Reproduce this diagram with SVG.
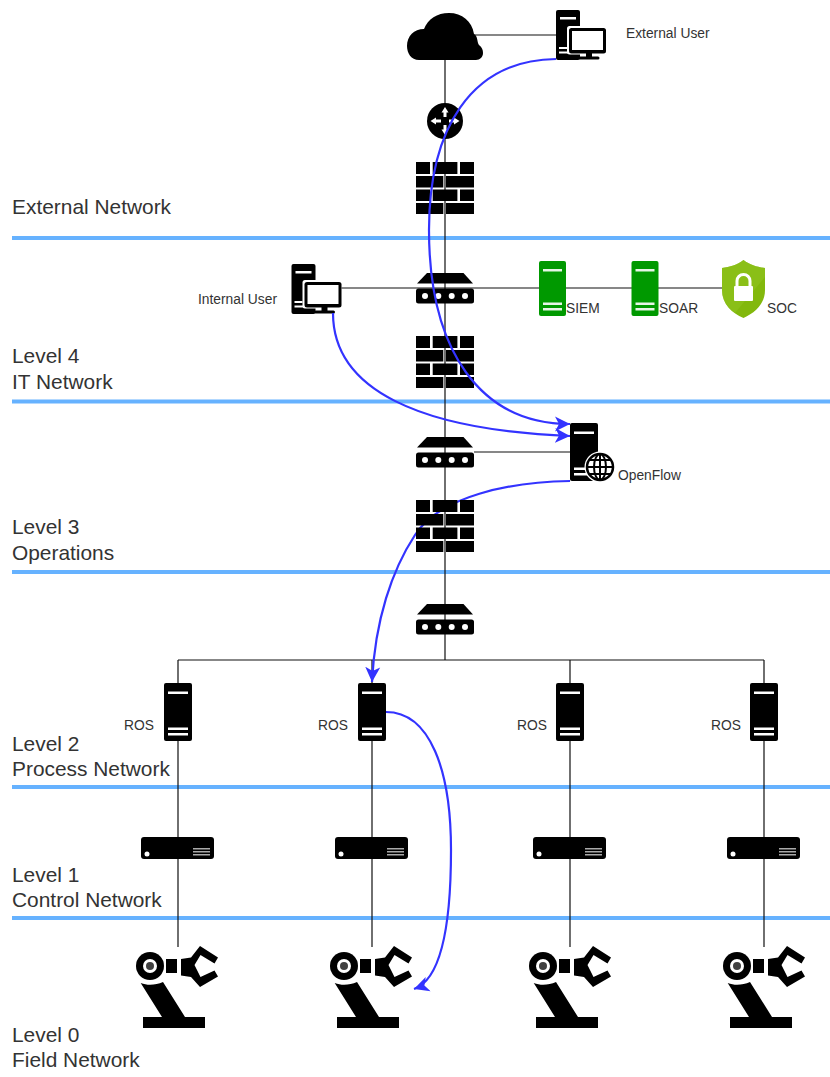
<svg xmlns="http://www.w3.org/2000/svg" xmlns:xlink="http://www.w3.org/1999/xlink" width="830" height="1077" viewBox="0 0 830 1077">
<style>
.band{stroke:#66b2ff;stroke-width:4;fill:none}
.wire{stroke:#111;stroke-width:1.200;fill:none}
.flow{stroke:#3333ff;stroke-width:2.200;fill:none}
text{font-family:"Liberation Sans",Arial,sans-serif;fill:#333}
.lv{font-size:20.900px}
.sm{font-size:13.800px}
</style>
<defs>
<marker id="arr" markerUnits="userSpaceOnUse" markerWidth="18" markerHeight="16" refX="15" refY="8" orient="auto">
<path d="M0 0.500L15 8L0 15.500L4 8Z" fill="#3333ff"/>
</marker>
<symbol id="firewall" overflow="visible">
<path d="M0 0h14v12H0zM16.700 0h24.700v12H16.700zM44 0h14v12H44zM0 14h27.300v11.500H0zM30 14h28v11.500H30zM0 27.500h14v11.500H0zM16.700 27.500h24.700v11.500H16.700zM44 27.500h14v11.500H44zM0 41h27.300v11H0zM30 41h28v11H30z" fill="#000"/>
</symbol>
<symbol id="switch" overflow="visible">
<path d="M11 0H47.500L57 10.500H1Z" fill="#000"/>
<rect x="0" y="15.500" width="58" height="15" rx="2.500" fill="#000"/>
<g fill="#fff"><circle cx="9" cy="23" r="3"/><circle cx="22.300" cy="23" r="3"/><circle cx="35.700" cy="23" r="3"/><circle cx="49" cy="23" r="3"/></g>
</symbol>
<symbol id="server" overflow="visible">
<rect width="28" height="58" rx="2" fill="#000"/>
<g fill="#fff"><rect x="4" y="8.500" width="20" height="2.500"/><rect x="4" y="44.500" width="20" height="2.500"/><rect x="4" y="50" width="20" height="2.500"/></g>
</symbol>
<symbol id="gserver" overflow="visible">
<rect width="27" height="55" rx="2" fill="#009900"/>
<g fill="#e6f5e6"><rect x="4" y="8" width="19" height="2.500"/><rect x="4" y="41.500" width="19" height="2.500"/><rect x="4" y="47" width="19" height="2.500"/></g>
</symbol>
<symbol id="pc" overflow="visible">
<rect width="24" height="50" rx="2" fill="#000"/>
<rect x="4" y="7" width="16" height="2.500" fill="#fff"/>
<rect x="3" y="37" width="8" height="2" fill="#fff"/>
<rect x="3" y="41.500" width="16" height="2" fill="#fff"/>
<rect x="11" y="16" width="39" height="28.500" rx="2.500" fill="#fff"/>
<rect x="13" y="18" width="37" height="25.500" rx="2.500" fill="#000"/>
<rect x="16" y="21" width="31" height="19" fill="#fff"/>
<path d="M30 43h6v3.500h6a1.500 1.500 0 0 1 0 3H24a1.500 1.500 0 0 1 0-3h6z" fill="#000"/>
</symbol>
<symbol id="device" overflow="visible">
<rect width="73" height="22" rx="3" fill="#000"/>
<circle cx="6" cy="17" r="2.500" fill="#fff"/>
<g fill="#aaa"><rect x="52" y="11" width="17" height="1.500"/><rect x="52" y="14" width="17" height="1.500"/><rect x="52" y="17" width="17" height="1.500"/></g>
</symbol>
<symbol id="robot" overflow="visible">
<circle cx="14" cy="20" r="14" fill="#000"/>
<circle cx="14" cy="20" r="7" fill="#fff"/>
<circle cx="14" cy="20" r="4" fill="#000" fill-opacity=".75"/>
<rect x="30" y="13" width="11" height="14" fill="#000"/>
<path d="M45 13L55 11.500L64 0L82 11.500L78.500 17.500L64.500 9L58.500 19L64.500 31L78.500 24.500L82 30.500L64 41L55 31L45 29.500Z" fill="#000"/>
<path d="M4.700 37C12 40 20 39 27 36L49 71H26Z" fill="#000"/>
<rect x="7" y="71" width="62" height="11" fill="#000"/>
</symbol>
</defs>
<g id="zones">
<path class="band" d="M12 238H830M12 401.500H830M12 572H830M12 787H830M12 918H830"/>
</g>
<g id="connectors">
<path class="wire" d="M445 55V640M470 35H556M340 288H722M474 452H570M178 660H764M445 636V660"/>
<path class="wire" d="M178 660V947M372 660V947M570 660V947M764 660V947"/>
<path class="flow" d="M570 481C510 482 440 496 415 535C392 570 375 620 372 682" marker-end="url(#arr)"/>
</g>
<g id="cloud"><path d="M419 60C411 60 407 53 407 46C407 36 414 29 424 29C428 19 437 13 449 13C462 13 472 21 474 34C478 36 477 43 479 45C482 47 483 50 483 53C483 57 480 60 476 60Z" fill="#000"/></g>
<g id="external-user"><use href="#pc" x="556" y="10"/><text class="sm" x="626" y="38">External User</text></g>
<g id="router">
<circle cx="445" cy="121" r="18" fill="#000"/>
<path d="M445 107l-3.500 5.500h2v4.500h3v-4.500h2zM445 135l-3.500-5.500h2v-4.500h3v4.500h2zM430.500 121l5.500-3.500v2h5v3h-5v2zM459.500 121l-5.500-3.500v2h-5v3h5v2z" fill="#fff"/>
</g>
<g id="firewall-1"><use href="#firewall" x="416" y="162"/></g>
<g id="switch-1"><use href="#switch" x="416" y="273"/></g>
<g id="internal-user"><use href="#pc" x="291.500" y="264"/><text class="sm" x="198" y="304">Internal User</text></g>
<g id="siem"><use href="#gserver" x="539" y="261"/><text class="sm" x="566" y="313">SIEM</text></g>
<g id="soar"><use href="#gserver" x="631.500" y="261"/><text class="sm" x="659" y="313">SOAR</text></g>
<g id="soc">
<path d="M743.500 260C750 265 757 267 765 268V290C765 304 755 313 743.500 318C732 313 722 304 722 290V268C730 267 737 265 743.500 260Z" fill="#82b80c"/>
<path d="M743.500 260C750 265 757 267 765 268V277L735 313C727 307 722 300 722 290V268C730 267 737 265 743.500 260Z" fill="#8fc31f" fill-opacity=".6"/>
<path d="M737 286V281a6.500 6.500 0 0 1 13 0v5" fill="none" stroke="#fff" stroke-width="3"/>
<rect x="734" y="286" width="19" height="15" rx="1" fill="#fff"/>
<text class="sm" x="767" y="313">SOC</text>
</g>
<g id="firewall-2"><use href="#firewall" x="416" y="336"/></g>
<g id="switch-2"><use href="#switch" x="416" y="437"/></g>
<g id="openflow">
<use href="#server" x="570" y="423"/>
<circle cx="600" cy="467" r="15.500" fill="#fff"/>
<circle cx="600" cy="467" r="13" fill="none" stroke="#000" stroke-width="2.500"/>
<ellipse cx="600" cy="467" rx="6" ry="13" fill="none" stroke="#000" stroke-width="2"/>
<path d="M600 454V480M587 467H613M589 460H611M589 474H611" stroke="#000" stroke-width="2" fill="none"/>
<text class="sm" x="618" y="480">OpenFlow</text>
</g>
<g id="firewall-3"><use href="#firewall" x="416" y="500"/></g>
<g id="switch-3"><use href="#switch" x="416" y="604"/></g>
<g id="ros-1"><use href="#server" x="164" y="683"/><text class="sm" x="124" y="730">ROS</text></g>
<g id="ros-2"><use href="#server" x="358" y="683"/><text class="sm" x="318" y="730">ROS</text></g>
<g id="ros-3"><use href="#server" x="556" y="683"/><text class="sm" x="517" y="730">ROS</text></g>
<g id="ros-4"><use href="#server" x="750" y="683"/><text class="sm" x="711" y="730">ROS</text></g>
<g id="device-1"><use href="#device" x="141" y="837"/></g>
<g id="device-2"><use href="#device" x="335" y="837"/></g>
<g id="device-3"><use href="#device" x="533" y="837"/></g>
<g id="device-4"><use href="#device" x="727" y="837"/></g>
<g id="robot-1"><use href="#robot" x="136" y="946"/></g>
<g id="robot-2"><use href="#robot" x="330" y="946"/></g>
<g id="robot-3"><use href="#robot" x="529" y="946"/></g>
<g id="robot-4"><use href="#robot" x="723" y="946"/></g>
<g id="flows">
<path class="flow" d="M556 59C470 60 429 130 429 230C429 350 480 424 570 424" marker-end="url(#arr)"/>
<path class="flow" d="M333 313C333 390 420 430 570 436" marker-end="url(#arr)"/>
<path class="flow" d="M386 712C430 712 451 770 451 850C451 930 440 980 414 989" marker-end="url(#arr)"/>
</g>
<g id="labels">
<text class="lv" x="12" y="214">External Network</text>
<text class="lv" x="12" y="363">Level 4</text><text class="lv" x="12" y="389">IT Network</text>
<text class="lv" x="12" y="534">Level 3</text><text class="lv" x="12" y="560">Operations</text>
<text class="lv" x="12" y="751">Level 2</text><text class="lv" x="12" y="776">Process Network</text>
<text class="lv" x="12" y="882">Level 1</text><text class="lv" x="12" y="907">Control Network</text>
<text class="lv" x="12" y="1042">Level 0</text><text class="lv" x="12" y="1067">Field Network</text>
</g>
</svg>
